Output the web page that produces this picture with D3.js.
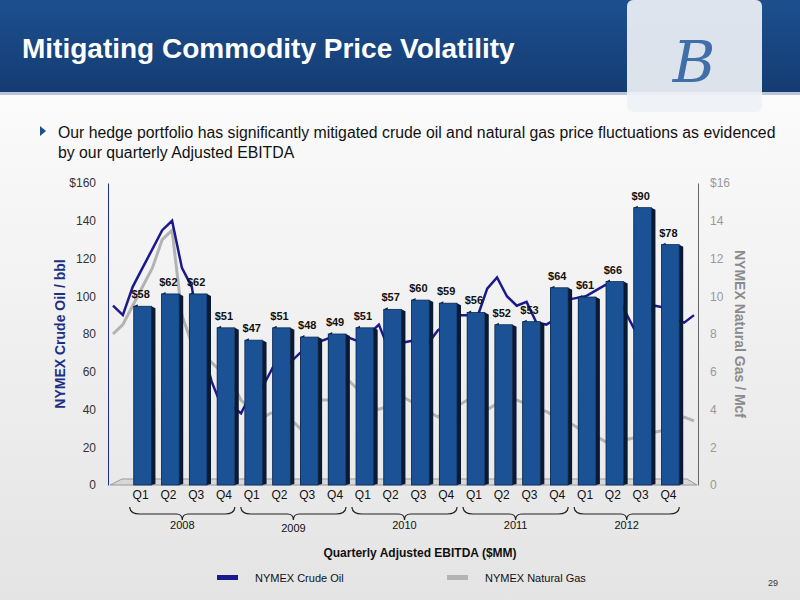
<!DOCTYPE html>
<html><head><meta charset="utf-8">
<script src="https://cdn.jsdelivr.net/npm/d3@7"></script>
<style>body{margin:0}svg{font-family:Arial,"Liberation Sans",sans-serif}</style>
</head><body><svg id="viz"></svg>
<script>
// quarterly adjusted EBITDA ($MM)
const quarters = ["Q1","Q2","Q3","Q4","Q1","Q2","Q3","Q4","Q1","Q2","Q3","Q4","Q1","Q2","Q3","Q4","Q1","Q2","Q3","Q4"]
const ebitda = [58,62,62,51,47,51,48,49,51,57,60,59,56,52,53,64,61,66,90,78]
const years = ["2008","2009","2010","2011","2012"]
// monthly averages Jan 2008 .. Dec 2012
const oil = [95,90,105,115,125,135,140,115,105,75,55,42,42,38,48,50,60,70,65,70,70,76,78,75,
  78,76,80,85,72,75,76,77,75,82,85,90,90,89,104,110,100,95,97,86,85,88,98,99,
  100,103,106,103,92,82,88,95,94,88,86,90]
const gas = [8,8.5,9.5,10.5,11.5,13,13.5,9,7.5,7,6.5,6,5.5,4.5,4,3.5,3.8,3.8,3.5,3,3.5,4.5,4.5,5.5,
  5.5,5,4.2,4,4.2,4.8,4.5,4.2,3.9,3.6,4,4.2,4.5,4,4,4.3,4.3,4.5,4.3,4,3.9,3.6,3.4,3.1,
  2.7,2.6,2.3,2,2.4,2.5,3,2.8,2.9,3.4,3.6,3.4]
const leftTicks = [0,20,40,60,80,100,120,140,160]
const rightTicks = [0,2,4,6,8,10,12,14,16]

const width = 800, height = 600
const svg = d3.select("#viz").attr("width", width).attr("height", height)

const defs = svg.append("defs")
const bg = defs.append("linearGradient").attr("id","bg").attr("x1",0).attr("y1",0).attr("x2",0).attr("y2",1)
bg.append("stop").attr("offset","0").attr("stop-color","#ffffff")
bg.append("stop").attr("offset","1").attr("stop-color","#e4e4e4")
const hd = defs.append("linearGradient").attr("id","hd").attr("x1",0).attr("y1",0).attr("x2",0).attr("y2",1)
hd.append("stop").attr("offset","0").attr("stop-color","#1d4f8f")
hd.append("stop").attr("offset","1").attr("stop-color","#143c72")

svg.append("rect").attr("width",width).attr("height",height).attr("fill","url(#bg)")
svg.append("rect").attr("width",width).attr("height",92).attr("fill","url(#hd)")
svg.append("rect").attr("y",92).attr("width",width).attr("height",3).attr("fill","#b9c4d4")
svg.append("text").attr("x",22).attr("y",58).attr("fill","#fff").attr("font-size",28).attr("font-weight","bold")
  .text("Mitigating Commodity Price Volatility")
// logo box
svg.append("rect").attr("x",627).attr("y",0).attr("width",135).attr("height",112).attr("fill","#eef1f5").attr("rx",6).attr("opacity",0.92)
svg.append("text").attr("x",694).attr("y",82).attr("text-anchor","middle").attr("font-size",58)
  .attr("font-style","italic").attr("font-family","DejaVu Serif").attr("fill","#3f6ea8").text("B")

svg.append("path").attr("d","M40,126 L46,131 L40,136 Z").attr("fill","#1d4f8f")
svg.append("text").attr("x",58).attr("y",138).attr("font-size",15.8).attr("fill","#111")
  .text("Our hedge portfolio has significantly mitigated crude oil and natural gas price fluctuations as evidenced")
svg.append("text").attr("x",58).attr("y",158).attr("font-size",15.8).attr("fill","#111")
  .text("by our quarterly Adjusted EBITDA")

const plotTop = 183, bottom = 485, left = 110, right = 697
const yL = d3.scaleLinear().domain([0,160]).range([bottom, plotTop])
const yR = d3.scaleLinear().domain([0,16]).range([bottom, plotTop])
const yB = d3.scaleLinear().domain([0,98]).range([bottom, plotTop])
const xT = d3.scaleLinear().domain([0,59]).range([left+3, right-3])
const xB = d3.scaleBand().domain(d3.range(ebitda.length)).range([131, 686]).paddingInner(0.22).paddingOuter(0.1)

// axes
const gl = svg.append("g").attr("transform",`translate(${left-2},0)`)
  .call(d3.axisLeft(yL).tickValues(leftTicks).tickSize(0).tickPadding(12).tickFormat(d => d===160 ? "$160" : d))
gl.select(".domain").attr("stroke","#1d2f86")
gl.selectAll("text").attr("font-size",12).attr("fill","#333")
const gr = svg.append("g").attr("transform",`translate(${right+1},0)`)
  .call(d3.axisRight(yR).tickValues(rightTicks).tickSize(0).tickPadding(12).tickFormat(d => d===16 ? "$16" : d))
gr.select(".domain").attr("stroke","#666")
gr.selectAll("text").attr("font-size",12).attr("fill","#999")

svg.append("text").attr("transform",`translate(65,${(plotTop+bottom)/2}) rotate(-90)`).attr("text-anchor","middle")
  .attr("font-size",14).attr("font-weight","bold").attr("fill","#1d2f86").text("NYMEX Crude Oil / bbl")
svg.append("text").attr("transform",`translate(735,${(plotTop+bottom)/2}) rotate(90)`).attr("text-anchor","middle")
  .attr("font-size",14).attr("font-weight","bold").attr("fill","#8a8a8a").text("NYMEX Natural Gas / Mcf")

// floor
svg.append("path").attr("d",`M${left},${bottom} L${left+12},${bottom-6} L${right-10},${bottom-6} L${right},${bottom} Z`)
  .attr("fill","#d8d8d8").attr("stroke","#999")

// lines (behind bars)
svg.append("path").datum(gas).attr("fill","none").attr("stroke","#b3b3b3").attr("stroke-width",3)
  .attr("d", d3.line().x((d,i)=>xT(i)).y(d=>yR(d)))
svg.append("path").datum(oil).attr("fill","none").attr("stroke","#1a1a8c").attr("stroke-width",2.5)
  .attr("d", d3.line().x((d,i)=>xT(i)).y(d=>yL(d)))

// bars
const bw = xB.bandwidth()
const bars = svg.append("g").selectAll("g").data(ebitda).join("g")
bars.append("path").attr("fill","#0c1e3a")
  .attr("d",(d,i)=>{const x=xB(i), y=yB(d); return `M${x},${y} L${x+4},${y-2} L${x+4},${bottom-2} L${x},${bottom} Z`})
bars.append("rect").attr("x",(d,i)=>xB(i)).attr("y",d=>yB(d)).attr("width",bw-4).attr("height",d=>bottom-yB(d))
  .attr("fill","#1b5296").attr("stroke","#0b2a55").attr("stroke-width",0.8)
bars.append("path").attr("fill","#0a1a33")
  .attr("d",(d,i)=>{const x=xB(i)+bw-4, y=yB(d); return `M${x},${y} L${x+4},${y+2} L${x+4},${bottom-1} L${x},${bottom} Z`})
bars.append("text").attr("x",(d,i)=>xB(i)+bw/2-4).attr("y",d=>yB(d)-8).attr("text-anchor","middle")
  .attr("font-size",11).attr("font-weight","bold").attr("fill","#111").text(d=>"$"+d)

// quarter labels
svg.append("g").selectAll("text").data(quarters).join("text")
  .attr("x",(d,i)=>xB(i)+bw/2-4).attr("y",499).attr("text-anchor","middle").attr("font-size",12).attr("fill","#111").text(d=>d)

// year braces
years.forEach((yr,k)=>{
  const x0 = xB(k*4)-4, x1 = xB(k*4+3)+bw-4, xm = (x0+x1)/2, y0 = 507
  svg.append("path").attr("fill","none").attr("stroke","#222").attr("stroke-width",1.2)
    .attr("d",`M${x0},${y0} Q${x0},${y0+7} ${x0+10},${y0+7} L${xm-6},${y0+7} Q${xm},${y0+7} ${xm},${y0+13} Q${xm},${y0+7} ${xm+6},${y0+7} L${x1-10},${y0+7} Q${x1},${y0+7} ${x1},${y0}`)
  svg.append("text").attr("x",xm).attr("y",k===1?532:529).attr("text-anchor","middle").attr("font-size",11).attr("fill","#111").text(yr)
})

svg.append("text").attr("x",420).attr("y",557).attr("text-anchor","middle").attr("font-size",12).attr("font-weight","bold")
  .attr("fill","#111").text("Quarterly Adjusted EBITDA ($MM)")

// legend
svg.append("rect").attr("x",217).attr("y",575).attr("width",21).attr("height",5).attr("fill","#1a1a8c")
svg.append("text").attr("x",255).attr("y",582).attr("font-size",11).attr("fill","#111").text("NYMEX Crude Oil")
svg.append("rect").attr("x",447).attr("y",575).attr("width",21).attr("height",5).attr("fill","#b3b3b3")
svg.append("text").attr("x",485).attr("y",582).attr("font-size",11).attr("fill","#111").text("NYMEX Natural Gas")
svg.append("text").attr("x",778).attr("y",586).attr("text-anchor","end").attr("font-size",9).attr("fill","#333").text("29")
</script></body></html>
